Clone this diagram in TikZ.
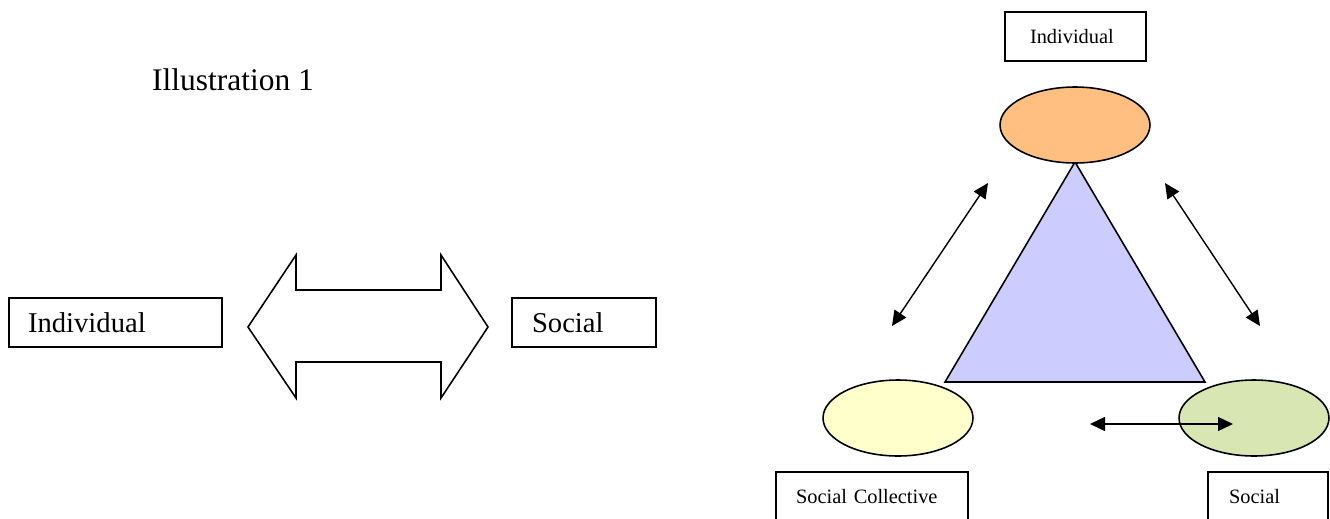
\documentclass[tikz,border=0pt]{standalone}
\usepackage{fontspec}
\setmainfont{Liberation Serif}
\usetikzlibrary{shapes.geometric,arrows.meta}

\definecolor{indorange}{RGB}{255,191,128}
\definecolor{tribleu}{RGB}{204,204,255}
\definecolor{colyellow}{RGB}{255,255,204}
\definecolor{socgreen}{RGB}{215,230,178}

\begin{document}
\begin{tikzpicture}[x=0.02cm,y=-0.02cm,
  box/.style={draw,line width=1.1pt,align=left,inner ysep=0pt},
  blob/.style={ellipse,draw,line width=0.9pt,minimum width=3cm,minimum height=1.52cm},
  link/.style={{Triangle[length=0.3cm,width=0.28cm]}-{Triangle[length=0.3cm,width=0.28cm]},line width=0.8pt}]
\clip (0,0) rectangle (1330,518);

\node[anchor=base west,font=\fontsize{17.9}{21}\selectfont] (title) at (146,90) {Illustration 1};

% left half
\node[box,font=\fontsize{16.3}{19}\selectfont,minimum height=0.98cm,text width=3.5cm,inner xsep=0.38cm] (indl) at (115.5,322.5) {Individual};
\node[box,font=\fontsize{16.3}{19}\selectfont,minimum height=0.98cm,text width=2.08cm,inner xsep=0.4cm] (socl) at (584,322.5) {Social};
\draw[line width=0.9pt] (248,327) -- (296,255) -- (296,290) -- (441,290) -- (441,255) -- (488,327)
  -- (441,398) -- (441,362) -- (296,362) -- (296,398) -- cycle;

% right half
\filldraw[fill=tribleu,line width=0.9pt] (1075,162) -- (945,382) -- (1205,382) -- cycle;
\node[blob,fill=indorange] (indo) at (1075,125) {};
\node[blob,fill=colyellow] (coll) at (898,418) {};
\node[blob,fill=socgreen] (socg) at (1254,418) {};

\coordinate (lu) at (988,183);
\coordinate (ld) at (892,326);
\coordinate (ru) at (1165,183);
\coordinate (rd) at (1260,326);
\coordinate (bl) at (1090,424);
\coordinate (br) at (1233,424);
\draw[link] (lu) -- (ld);
\draw[link] (ru) -- (rd);
\draw[link] (bl) -- (br);

\node[box,font=\fontsize{11.6}{14}\selectfont,minimum height=0.98cm,text width=1.82cm,inner xsep=0.5cm] (indt) at (1075.5,36.5) {Individual};
\node[box,font=\fontsize{11.6}{14}\selectfont,minimum height=1cm,text width=3.04cm,inner xsep=0.4cm] (scb) at (872,497) {Social Collective};
\node[box,font=\fontsize{11.6}{14}\selectfont,minimum height=1cm,text width=1.56cm,inner xsep=0.42cm] (sb) at (1268,497) {Social};
\end{tikzpicture}
\end{document}
